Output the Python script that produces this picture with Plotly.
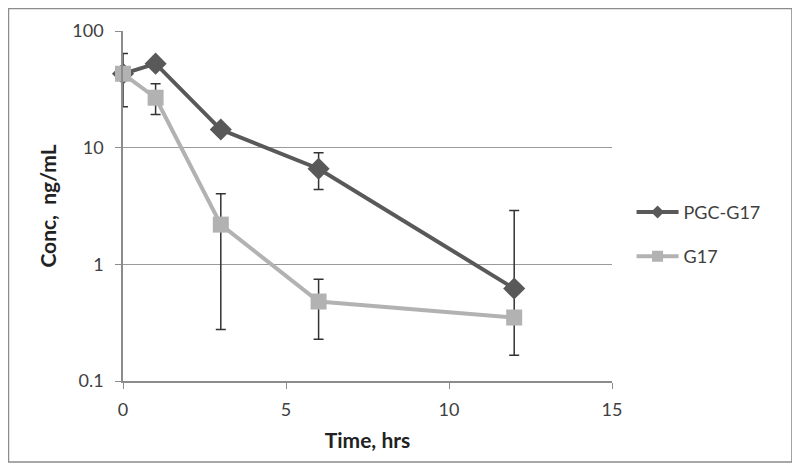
# %%
# Concentration vs time, log scale, two formulations
import plotly.graph_objects as go

# Data
time_hrs = [0, 1, 3, 6, 12]

pgc_conc = [43, 52.5, 14.3, 6.6, 0.62]
pgc_upper = [64, 52.5, 14.3, 9.06, 2.9]
pgc_lower = [22.4, 52.5, 14.3, 4.37, 0.166]

g17_conc = [43, 26.8, 2.19, 0.48, 0.35]
g17_upper = [43, 35.3, 4.03, 0.744, 0.35]
g17_lower = [43, 19.2, 0.277, 0.228, 0.35]

x_ticks = [0, 5, 10, 15]
y_ticks = [0.1, 1, 10, 100]
y_tick_text = ["0.1", "1", "10", "100"]

PGC_COLOR = "#595959"
G17_COLOR = "#b2b2b2"


# %%
def err(conc, upper, lower):
    plus = [u - c for u, c in zip(upper, conc)]
    minus = [c - l for c, l in zip(conc, lower)]
    return dict(
        type="data",
        array=plus,
        arrayminus=minus,
        color="#333333",
        thickness=1.5,
        width=5,
    )


fig = go.Figure()

fig.add_trace(
    go.Scatter(
        x=time_hrs,
        y=pgc_conc,
        name="PGC-G17",
        showlegend=False,
        mode="lines+markers",
        line=dict(color=PGC_COLOR, width=4),
        marker=dict(symbol="diamond", size=17, color=PGC_COLOR),
        error_y=err(pgc_conc, pgc_upper, pgc_lower),
        cliponaxis=False,
    )
)
fig.add_trace(
    go.Scatter(
        x=time_hrs,
        y=g17_conc,
        name="G17",
        showlegend=False,
        mode="lines+markers",
        line=dict(color=G17_COLOR, width=4),
        marker=dict(symbol="square", size=16, color=G17_COLOR),
        error_y=err(g17_conc, g17_upper, g17_lower),
        cliponaxis=False,
    )
)

# legend entries with smaller markers, as in the original
fig.add_trace(
    go.Scatter(
        x=[None],
        y=[None],
        name="PGC-G17",
        legendgroup="a",
        mode="lines+markers",
        line=dict(color=PGC_COLOR, width=4),
        marker=dict(symbol="diamond", size=10, color=PGC_COLOR),
    )
)
fig.add_trace(
    go.Scatter(
        x=[None],
        y=[None],
        name="G17",
        legendgroup="b",
        mode="lines+markers",
        line=dict(color=G17_COLOR, width=4),
        marker=dict(symbol="square", size=11, color=G17_COLOR),
    )
)

font = "Lato, 'Open Sans', sans-serif"

fig.update_layout(
    width=800,
    height=470,
    margin=dict(l=115, r=196, t=23, b=97),
    paper_bgcolor="white",
    plot_bgcolor="white",
    font=dict(family=font, size=18, color="#404040"),
    legend=dict(
        x=1.04,
        y=0.535,
        xanchor="left",
        yanchor="top",
        font=dict(size=18, color="#404040"),
        tracegroupgap=18,
        itemwidth=42,
        bgcolor="rgba(0,0,0,0)",
    ),
    showlegend=True,
)

fig.update_xaxes(
    range=[0, 15],
    tickvals=x_ticks,
    showgrid=False,
    zeroline=False,
    showline=True,
    linecolor="#8c8c8c",
    linewidth=1.5,
    ticks="outside",
    ticklen=6,
    tickcolor="#8c8c8c",
    tickfont=dict(size=18),
    ticklabelstandoff=6,
    title=dict(
        text="<b>Time, hrs</b>",
        font=dict(size=21, color="#222222"),
        standoff=14,
    ),
)

fig.update_yaxes(
    type="log",
    range=[-1, 2],
    tickvals=y_ticks,
    ticktext=y_tick_text,
    showgrid=True,
    gridcolor="#9a9a9a",
    gridwidth=1.2,
    zeroline=False,
    showline=True,
    linecolor="#8c8c8c",
    linewidth=1.5,
    ticks="outside",
    ticklen=6,
    tickcolor="#8c8c8c",
    tickfont=dict(size=18),
    ticklabelstandoff=8,
    title=dict(
        text="<b>Conc,  ng/mL</b>",
        font=dict(size=21, color="#222222"),
        standoff=10,
    ),
)

# outer chart border
fig.add_shape(
    type="rect",
    xref="paper",
    yref="paper",
    x0=-0.2342,
    x1=1.368,
    y0=-0.2314,
    y1=1.0643,
    line=dict(color="#8c8c8c", width=1.5),
    fillcolor="rgba(0,0,0,0)",
    layer="below",
)

fig.write_html("out.html")
